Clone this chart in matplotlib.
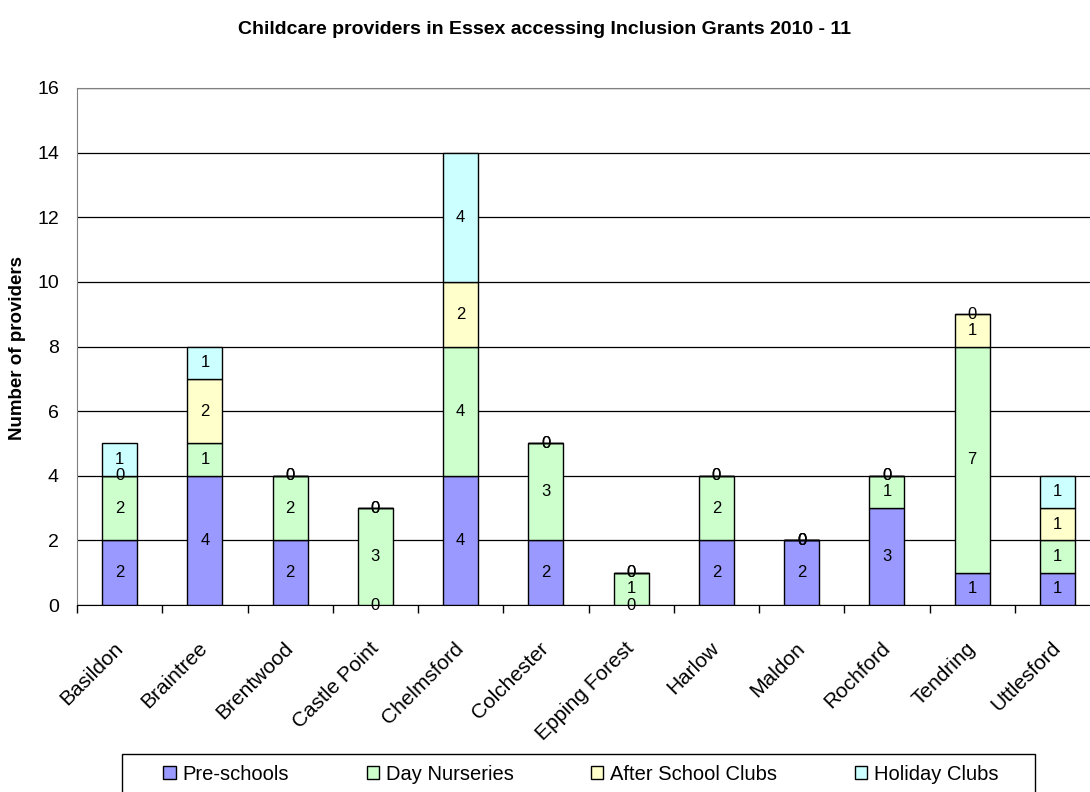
import matplotlib
matplotlib.use("Agg")
import matplotlib.pyplot as plt
from matplotlib.patches import Rectangle
import numpy as np

plt.rcParams['font.family'] = ['Liberation Sans', 'DejaVu Sans']

districts = ["Basildon", "Braintree", "Brentwood", "Castle Point", "Chelmsford",
             "Colchester", "Epping Forest", "Harlow", "Maldon", "Rochford",
             "Tendring", "Uttlesford"]
pre_schools = [2, 4, 2, 0, 4, 2, 0, 2, 2, 3, 1, 1]
day_nurseries = [2, 1, 2, 3, 4, 3, 1, 2, 0, 1, 7, 1]
after_school = [0, 2, 0, 0, 2, 0, 0, 0, 0, 0, 1, 1]
holiday_clubs = [1, 1, 0, 0, 4, 0, 0, 0, 0, 0, 0, 1]

series = [
    ("Pre-schools", pre_schools, "#9999FF"),
    ("Day Nurseries", day_nurseries, "#CCFFCC"),
    ("After School Clubs", after_school, "#FFFFCC"),
    ("Holiday Clubs", holiday_clubs, "#CCFFFF"),
]

W, H = 1090, 792
fig = plt.figure(figsize=(W / 100, H / 100), dpi=100)
# plot area runs slightly past the right edge of the canvas
ax = fig.add_axes([77 / W, 1 - 605 / H, (1100 - 77) / W, (605 - 88) / H])

x = np.arange(len(districts))
bottom = np.zeros(len(districts))
handles = []
for name, vals, color in series:
    vals = np.array(vals, dtype=float)
    bars = ax.bar(x, vals, width=0.41, bottom=bottom, color=color,
                  edgecolor="black", linewidth=1.0, label=name, zorder=3)
    handles.append(bars)
    for xi, b, v in zip(x, bottom, vals):
        ax.text(xi, b + v / 2, f"{int(v)}", ha="center", va="center",
                fontsize=12, zorder=4)
    bottom += vals

ax.set_xlim(-0.5, len(districts) - 0.5)
ax.set_ylim(0, 16)
ax.set_yticks(np.arange(0, 17, 2))
ax.tick_params(axis="y", labelsize=14, length=0, pad=13)
ax.yaxis.grid(True, color="black", linewidth=0.9, zorder=0)
ax.set_axisbelow(True)

ax.set_xticks(x)
ax.set_xticklabels(districts, rotation=45, ha="right", va="center",
                   rotation_mode="anchor", fontsize=15)
ax.tick_params(axis="x", which="major", length=0, pad=29)
ax.set_xticks(np.arange(-0.5, len(districts), 1.0), minor=True)
ax.tick_params(axis="x", which="minor", length=6, color="black", width=1)

for side in ["left", "top", "right"]:
    ax.spines[side].set_color("#808080")
ax.spines["bottom"].set_color("black")

ax.set_ylabel("Number of providers", fontsize=13.5, fontweight="bold")
ax.yaxis.set_label_coords(-0.050, 0.498)

fig.text(0.5, 1 - 30 / H,
         "Childcare providers in Essex accessing Inclusion Grants 2010 - 11",
         ha="center", va="center", fontsize=14, fontweight="bold")

# legend frame drawn as a plain rectangle, entries laid out inside it
fig.patches.append(Rectangle((122 / W, 1 - 794 / H), (1035 - 122) / W,
                             (794 - 754) / H, transform=fig.transFigure,
                             facecolor="white", edgecolor="black",
                             linewidth=1.0, zorder=1))
fig.legend(handles=handles, loc="center", bbox_to_anchor=(581 / W, 1 - 774 / H),
           ncol=4, fontsize=14.5, frameon=False,
           handlelength=0.6, handleheight=0.65, handletextpad=0.35,
           columnspacing=3.85, borderpad=0.0)

fig.savefig("out.png", dpi=100, facecolor="white")
